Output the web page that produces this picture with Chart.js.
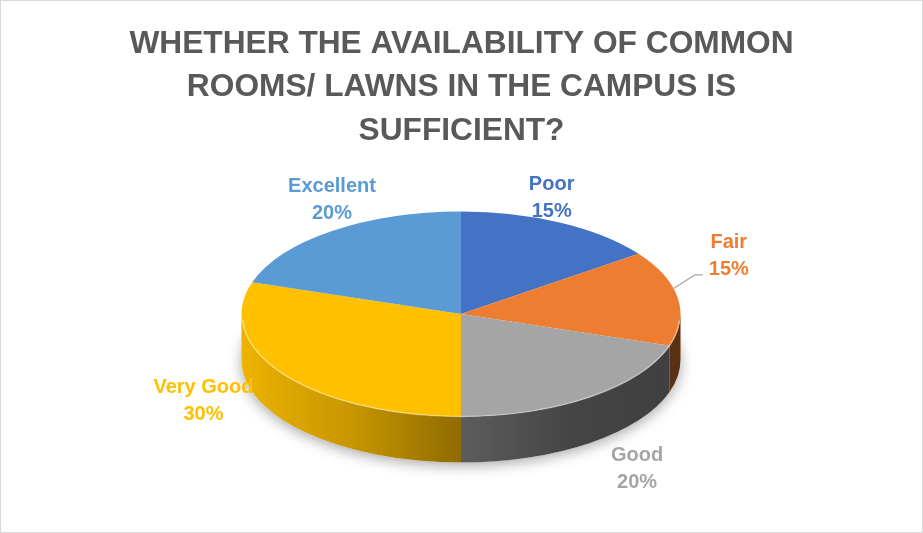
<!DOCTYPE html>
<html>
<head>
<meta charset="utf-8">
<script src="https://cdn.jsdelivr.net/npm/chart.js@4.4.0/dist/chart.umd.min.js"></script>
<style>
  html, body { margin: 0; padding: 0; background: #fff; }
  #frame { position: absolute; left: 0; top: 0; width: 921px; height: 531px; border: 1px solid #d9d9d9; }
  canvas { display: block; }
</style>
</head>
<body>
<div id="frame"><canvas id="pie" width="921" height="531"></canvas></div>
<script>
// ── Data ───────────────────────────────────────────────
const categories = ['Poor', 'Fair', 'Good', 'Very Good', 'Excellent'];
const shares     = [15, 15, 20, 30, 20];
const titleLines = ['WHETHER THE AVAILABILITY OF COMMON', 'ROOMS/ LAWNS IN THE CAMPUS IS', 'SUFFICIENT?'];

// ── Style ──────────────────────────────────────────────
const COLORS     = ['#4472C4', '#ED7D31', '#A5A5A5', '#FFC000', '#5B9BD5'];
const FONT       = '"Liberation Sans", Arial, sans-serif';
const PIE        = { cx: 460, cy: 313, rx: 219.5, ry: 102.5, depth: 46 };
const SIDE_SHADE = [0.93, 0.78, 0.56, 0.42, 0.38];          // left → right darkness of the rim
const LABEL_NUDGE = [[-9, -25], [51, -42], [47, 26], [-80, -19], [0, -31]];
const LEADER     = { index: 1, at: 0.4 };                   // Fair has a leader line

function shade(hex, f) {
    const n = parseInt(hex.slice(1), 16);
    const r = Math.round(((n >> 16) & 255) * f), g = Math.round(((n >> 8) & 255) * f), b = Math.round((n & 255) * f);
    return `rgb(${r},${g},${b})`;
}

// ── 3D pie plugin: rim + squashed top face + labels ────
const pie3d = {
    id: 'pie3d',
    beforeDatasetsDraw(chart) {
        const ctx = chart.ctx;
        const meta = chart.getDatasetMeta(0);
        const { cx, cy, rx, ry, depth } = PIE;

        // soft shadow under the pie
        ctx.save();
        ctx.shadowColor = 'rgba(0,0,0,0.35)';
        ctx.shadowBlur = 14;
        ctx.shadowOffsetY = 3;
        ctx.fillStyle = '#fff';
        ctx.beginPath();
        ctx.ellipse(cx, cy + depth, rx, ry, 0, 0, Math.PI * 2);
        ctx.fill();
        ctx.restore();

        // side walls for the front half
        meta.data.forEach((arc, i) => {
            const s = arc.startAngle, e = arc.endAngle;
            for (let k = -1; k <= 1; k++) {
                const lo = Math.max(s, 2 * Math.PI * k), hi = Math.min(e, 2 * Math.PI * k + Math.PI);
                if (hi <= lo) continue;
                const g = ctx.createLinearGradient(cx - rx, 0, cx + rx, 0);
                SIDE_SHADE.forEach((f, j) => g.addColorStop(j / (SIDE_SHADE.length - 1), shade(COLORS[i], f)));
                ctx.fillStyle = g;
                ctx.beginPath();
                ctx.ellipse(cx, cy, rx, ry, 0, lo, hi);
                ctx.ellipse(cx, cy + depth, rx, ry, 0, hi, lo, true);
                ctx.closePath();
                ctx.fill();
            }
        });

        // squash the library's circle into the top ellipse
        const a = meta.data[0];
        ctx.save();
        ctx.translate(cx, cy);
        ctx.scale(rx / a.outerRadius, ry / a.outerRadius);
        ctx.translate(-a.x, -a.y);
    },
    afterDatasetsDraw(chart) {
        const ctx = chart.ctx;
        ctx.restore();
        const meta = chart.getDatasetMeta(0);
        const { cx, cy, rx, ry, depth } = PIE;
        const total = shares.reduce((t, v) => t + v, 0);

        // light rim highlight on the front edge
        ctx.save();
        ctx.strokeStyle = 'rgba(255,255,255,0.35)';
        ctx.lineWidth = 1.5;
        ctx.beginPath();
        ctx.ellipse(cx, cy + 1, rx - 1, ry - 1, 0, 0.05, Math.PI - 0.05);
        ctx.stroke();
        ctx.restore();

        ctx.save();
        ctx.font = `bold 20px ${FONT}`;
        ctx.textAlign = 'center';
        ctx.textBaseline = 'middle';
        meta.data.forEach((arc, i) => {
            const m = (arc.startAngle + arc.endAngle) / 2;
            const px = cx + rx * Math.cos(m);
            const py = cy + ry * Math.sin(m) + (Math.sin(m) > 0 ? depth : 0);
            const lx = px + LABEL_NUDGE[i][0], ly = py + LABEL_NUDGE[i][1];
            ctx.fillStyle = COLORS[i];
            ctx.fillText(categories[i], lx, ly - 13.5);
            ctx.fillText(Math.round(shares[i] / total * 100) + '%', lx, ly + 13.5);

            if (i === LEADER.index) {
                const t = arc.startAngle + (arc.endAngle - arc.startAngle) * LEADER.at;
                ctx.strokeStyle = '#A6A6A6';
                ctx.lineWidth = 1.2;
                ctx.beginPath();
                ctx.moveTo(cx + rx * Math.cos(t), cy + ry * Math.sin(t));
                ctx.lineTo(lx - 34, ly + 19);
                ctx.lineTo(lx - 26, ly + 19);
                ctx.stroke();
            }
        });
        ctx.restore();
    }
};

// ── Chart ──────────────────────────────────────────────
new Chart(document.getElementById('pie'), {
    type: 'pie',
    data: {
        labels: categories,
        datasets: [{ data: shares, backgroundColor: COLORS, borderWidth: 0, clip: false }]
    },
    options: {
        responsive: false,
        animation: false,
        events: [],
        plugins: {
            legend: { display: false },
            tooltip: { enabled: false },
            title: {
                display: true,
                text: titleLines,
                color: '#595959',
                font: { family: FONT, size: 31.7, weight: 'bold', lineHeight: 1.36 },
                padding: { top: 22, bottom: 10 }
            }
        }
    },
    plugins: [pie3d]
});
</script>
</body>
</html>
